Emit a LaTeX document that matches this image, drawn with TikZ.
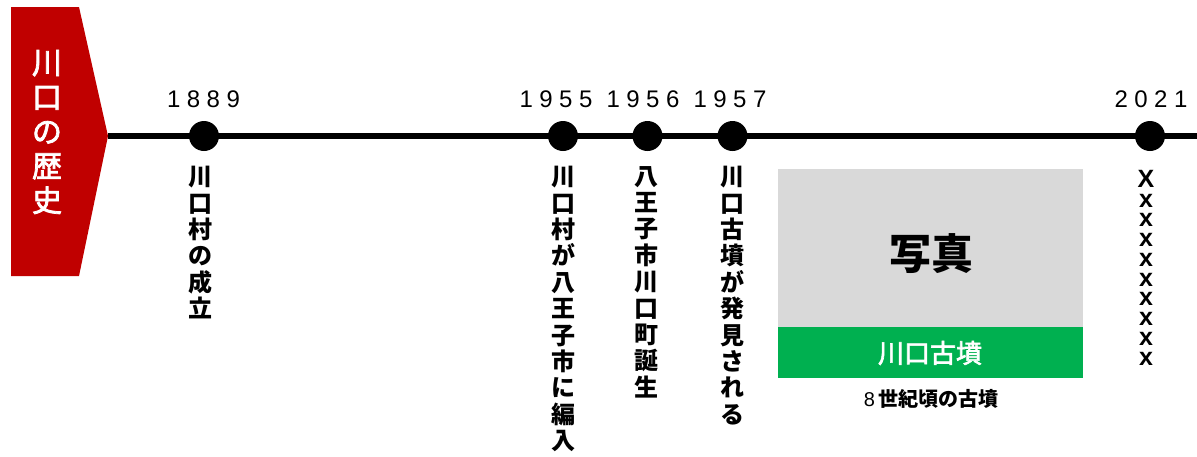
\documentclass[tikz,border=0pt]{standalone}
\usepackage{fontspec}
\setmainfont{Liberation Sans}
\newfontfamily\jp{Noto Sans CJK JP}
\newfontfamily\jpm{Noto Sans CJK JP}[FakeBold=2.5]
\definecolor{titlered}{HTML}{C00000}
\definecolor{photogray}{HTML}{D9D9D9}
\definecolor{kgreen}{HTML}{00B050}
\newcommand\yk{\kern6.5pt}
\begin{document}
\begin{tikzpicture}[x=1pt,y=-1pt,
  vlab/.style={anchor=north, align=center, inner sep=0pt, font=\jp\bfseries\fontsize{24}{26.4}\selectfont},
  yr/.style={anchor=base, inner sep=0pt, font=\fontsize{24}{28}\selectfont},
  dot/.style={circle, fill=black, minimum size=30pt, inner sep=0pt},
  xmark/.style={inner sep=0pt, align=center, anchor=north, font=\bfseries\fontsize{25}{19.75}\selectfont},
]
\useasboundingbox (0,0) rectangle (1197,456);
% title
\fill[titlered] (11,7) -- (79,7) -- (108,136) -- (79,276) -- (11,276) -- cycle;
\coordinate (tip) at (108,136);
\coordinate (end) at (1197,136);
\node[font=\jpm\fontsize{30}{34.5}\selectfont, text=white, align=center, inner sep=0pt] (title) at (47,132) {川\\口\\の\\歴\\史};
% timeline
\draw[line width=6.5pt] (tip) -- (end);
\node[dot] (d1889) at (204,136) {};
\node[dot] (d1955) at (563,136) {};
\node[dot] (d1956) at (647.5,136) {};
\node[dot] (d1957) at (732.5,136) {};
\node[dot] (d2021) at (1150,136) {};
% years
\node[yr] (y1889) at (203.5,107) {1\yk8\yk8\yk9};
\node[yr] (y1955) at (556,107) {1\yk9\yk5\yk5};
\node[yr] (y1956) at (643,107) {1\yk9\yk5\yk6};
\node[yr] (y1957) at (730,107) {1\yk9\yk5\yk7};
\node[yr] (y2021) at (1151,107) {2\yk0\yk2\yk1};
% vertical labels
\node[vlab] (l1889) at (200,166) {川\\口\\村\\の\\成\\立};
\node[vlab] (l1955) at (563.5,166) {川\\口\\村\\が\\八\\王\\子\\市\\に\\編\\入};
\node[vlab] (l1956) at (646.5,166) {八\\王\\子\\市\\川\\口\\町\\誕\\生};
\node[vlab] (l1957) at (732.5,166) {川\\口\\古\\墳\\が\\発\\見\\さ\\れ\\る};
% photo
\node[fill=photogray, anchor=north west, minimum width=305pt, minimum height=158pt, inner sep=0pt] (photo) at (778,169) {};
\node[font=\jp\bfseries\fontsize{42}{46}\selectfont, inner sep=0pt] (phototext) at (931,254) {写真};
\node[fill=kgreen, anchor=north west, minimum width=305pt, minimum height=51pt, inner sep=0pt] (cap) at (778,327) {};
\node[font=\jpm\fontsize{26}{30}\selectfont, text=white, inner sep=0pt] (captext) at (930,353) {川口古墳};
\node[font=\jp\bfseries\fontsize{20}{24}\selectfont, inner sep=0pt] (sub) at (931,399) {{\normalfont\fontsize{20}{24}\selectfont 8\,}世紀頃の古墳};
% 2021
\node[xmark] (l2021) at (1146,170) {X\\x\\x\\x\\x\\x\\x\\x\\x\\x};
\end{tikzpicture}
\end{document}
